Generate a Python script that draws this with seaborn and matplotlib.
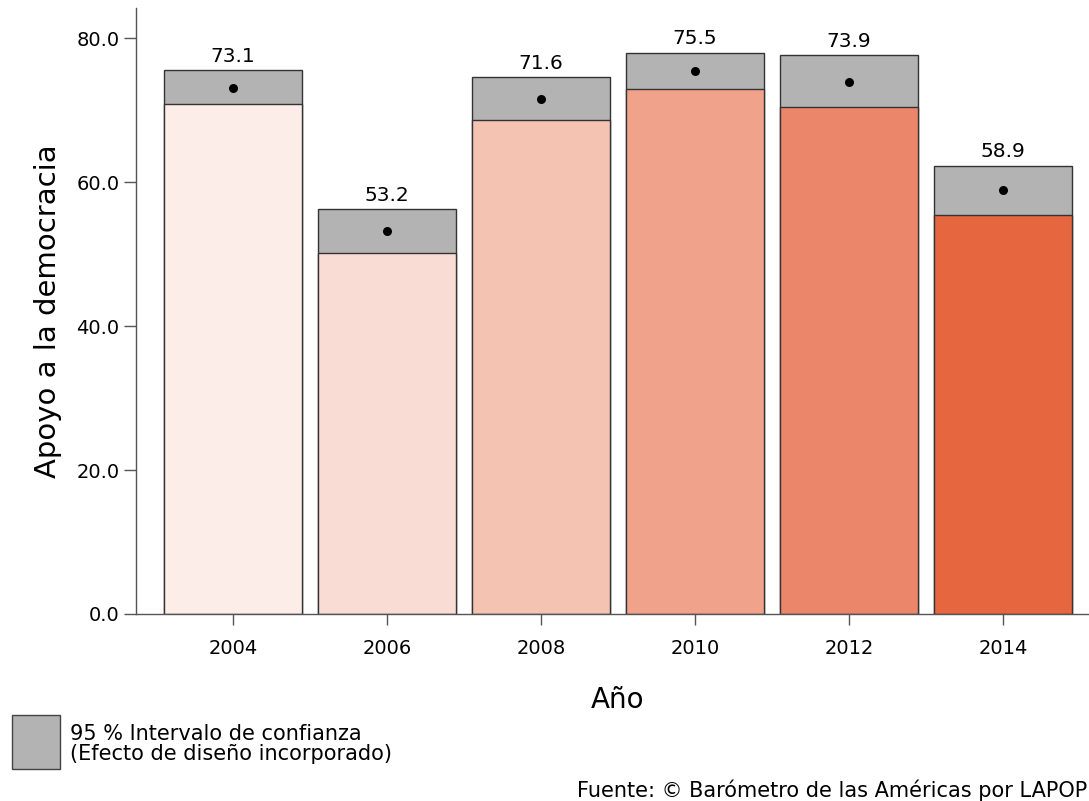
import pandas as pd
import matplotlib
matplotlib.use("Agg")
import matplotlib.pyplot as plt
import seaborn as sns

# Data
years = ['2004', '2006', '2008', '2010', '2012', '2014']
means = [73.1, 53.2, 71.6, 75.5, 73.9, 58.9]
ci_low = [70.8, 50.1, 68.6, 73.0, 70.4, 55.5]
ci_high = [75.6, 56.2, 74.6, 78.0, 77.6, 62.3]
bar_colors = ['#fcede9', '#f9ddd4', '#f5c3b1', '#f0a38a', '#ec866a', '#e6663f']

df = pd.DataFrame({'Año': years, 'media': means, 'inf': ci_low, 'sup': ci_high})

sns.set_style("ticks")
plt.rcParams['font.family'] = ['DejaVu Sans']
plt.rcParams['text.color'] = 'black'
plt.rcParams['axes.labelcolor'] = 'black'
plt.rcParams['xtick.labelcolor'] = 'black'
plt.rcParams['ytick.labelcolor'] = 'black'

fig = plt.figure(figsize=(10.89, 8.01), dpi=100)
ax = fig.add_axes([0.1249, 0.2335, 0.8852, 0.7566])

# grey part: full bar up to the upper CI limit
sns.barplot(data=df, x='Año', y='sup', order=years, color='#b3b3b3', saturation=1,
            width=0.9, edgecolor='#333333', linewidth=1, ax=ax)
# coloured part: up to the lower CI limit
sns.barplot(data=df, x='Año', y='inf', order=years, hue='Año', saturation=1,
            palette=bar_colors, legend=False, width=0.9,
            edgecolor='#333333', linewidth=1, ax=ax)
# point estimate
sns.stripplot(data=df, x='Año', y='media', order=years, jitter=False,
              color='black', size=6.5, ax=ax, zorder=5)

# value labels above each bar
for i, (m, top) in enumerate(zip(means, ci_high)):
    ax.annotate(f"{m:.1f}", xy=(i, top), xytext=(0, 3), textcoords='offset points',
                ha='center', va='bottom', fontsize=14.5)

ax.set_xlim(-0.63, 5.63)
ax.set_ylim(0, 84.2)
ax.set_yticks([0, 20, 40, 60, 80])
ax.set_yticklabels([f"{v:.1f}" for v in [0, 20, 40, 60, 80]])
ax.set_xlabel('Año', fontsize=20, labelpad=20)
ax.set_ylabel('Apoyo a la democracia', fontsize=21, labelpad=10)
ax.tick_params(axis='both', labelsize=14, color='#555555', width=1)
ax.tick_params(axis='y', length=9, pad=3)
ax.tick_params(axis='x', length=8, pad=10)
sns.despine(ax=ax)
for s in ['left', 'bottom']:
    ax.spines[s].set_color('#555555')
    ax.spines[s].set_linewidth(1)

# legend for the confidence interval
fig.patches.append(plt.Rectangle((12 / 1089, 1 - 769 / 801), 48 / 1089, 54 / 801,
                                 transform=fig.transFigure, facecolor='#b3b3b3',
                                 edgecolor='#444444', linewidth=1))
fig.text(70 / 1089, 1 - 744 / 801, "95 % Intervalo de confianza\n(Efecto de diseño incorporado)",
         fontsize=15, va='center', ha='left', linespacing=1.0)

fig.text(1087 / 1089, 1 - 790 / 801, "Fuente: © Barómetro de las Américas por LAPOP",
         fontsize=15, ha='right', va='center')

fig.savefig("out.png", dpi=100)
